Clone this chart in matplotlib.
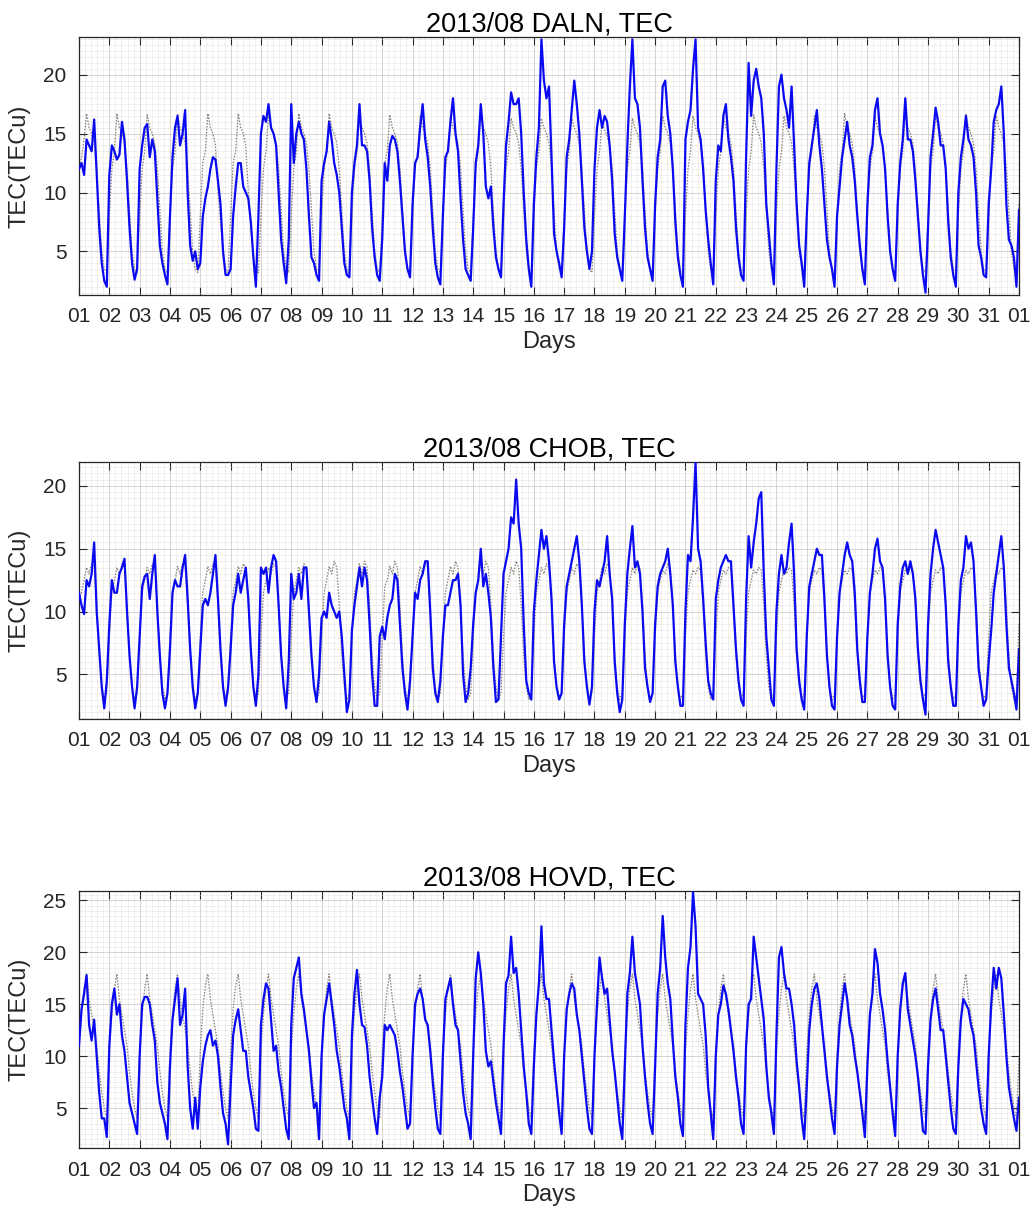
import numpy as np
import matplotlib
matplotlib.use("Agg")
import matplotlib.pyplot as plt
from matplotlib.ticker import MultipleLocator

plt.rcParams["font.family"] = ["Liberation Sans", "DejaVu Sans"]

# one row per day, samples every 2 h (00, 02, ..., 22 UT); last value = 1 Sep 00 UT
day_labels = [f"{d:02d}" for d in range(1, 32)] + ["01"]

daln_tec = [
    [12, 12.5, 11.5, 14.5, 14, 13.5, 16.2, 11.5, 7, 4, 2.5, 2.0],
    [11.5, 14, 13.5, 12.8, 13.2, 16, 14.5, 11, 7, 4, 2.6, 3.5],
    [12, 14, 15.5, 15.8, 13, 14.5, 13.5, 9.5, 5.5, 4, 3, 2.2],
    [8, 13, 15.5, 16.5, 14, 15, 17, 10, 5.5, 4.2, 5, 3.5],
    [4, 8, 9.5, 10.5, 12, 13, 12.8, 11, 9, 5, 3, 3],
    [3.5, 8, 10.5, 12.5, 12.5, 10.5, 10, 9.5, 7.5, 4.5, 2, 8],
    [15, 16.5, 16, 17.5, 15.5, 15, 14, 10, 6, 4, 2.3, 6],
    [17.5, 12.5, 15, 16, 15, 14.5, 12, 8, 4.5, 4, 3, 2.5],
    [11, 12.5, 13.5, 16, 14.5, 12.5, 11.5, 10, 7, 4, 3, 2.8],
    [10, 12.5, 14, 17.5, 14, 14, 13.5, 11, 7, 4.5, 3, 2.5],
    [6, 12.5, 11, 14, 14.8, 14.5, 13.5, 11, 8, 5, 3.5, 2.8],
    [9, 12.5, 13, 15.5, 17.5, 14.5, 13, 10.5, 7, 4, 2.8, 2.2],
    [8, 13, 13.5, 16, 18, 15, 13.5, 9.5, 6, 3.5, 3, 2.5],
    [7, 12.5, 14, 17.5, 15, 10.5, 9.5, 10.5, 7, 4.5, 3.5, 2.8],
    [9, 14, 16, 18.5, 17.5, 17.5, 18, 15, 10, 6, 3.5, 2],
    [9, 13, 15.5, 23, 19.5, 18, 19, 13, 6.5, 5, 4, 2.8],
    [7, 13, 14.5, 17, 19.5, 17.5, 15, 11, 7, 5, 3.5, 5],
    [12, 15.5, 17, 15.5, 16.5, 16, 14, 11, 6.5, 4.5, 3.5, 2.5],
    [8, 14, 19, 23, 18, 17.5, 15.5, 11, 7, 4.5, 3.5, 2.5],
    [9, 13, 14.5, 19, 19.5, 16.5, 15, 12, 7.5, 4.5, 3, 2],
    [14.5, 16, 17, 20.5, 23, 15.5, 14.5, 12, 8.5, 6, 4, 2.2],
    [11, 14, 13.5, 16.5, 17.5, 14.5, 13, 11, 7, 4.5, 3, 2.5],
    [13, 21, 16.5, 19.5, 20.5, 19, 18, 15, 9, 6.5, 4, 2.2],
    [12, 19, 20, 18, 17, 15.5, 19, 14, 9, 5.5, 4, 2],
    [8, 12.5, 14, 15.5, 17, 14, 12, 9, 6, 4.5, 3.5, 2],
    [8, 10.5, 13, 14.5, 16, 14, 13, 11, 8, 5.5, 3.5, 2.2],
    [9, 13, 14, 17, 18, 15, 14, 12, 8, 5, 3.5, 2.5],
    [9, 12.5, 14.5, 18, 14.5, 14.5, 13.5, 11, 8, 5, 3, 1.5],
    [7, 13, 15, 17.2, 16, 14, 14, 12, 7.5, 4.5, 3, 2],
    [10, 13, 14.5, 16.5, 14.5, 14, 13, 10, 5.5, 4.5, 3, 2.8],
    [9, 12, 16, 17, 17.5, 19, 15, 9, 6, 5.5, 4.5, 2.0],
]
daln_tec_end = 8.5

daln_ref = [
    [12, 13, 14.5, 16.7, 15.5, 15, 14.2, 12, 8.5, 5, 3.5, 3.2],
    [8, 12, 13.5, 16.7, 15.5, 15, 14.2, 12, 8.5, 5, 3.5, 3.2],
    [8, 12, 13.5, 16.6, 15.5, 15, 14.2, 12, 8.5, 5, 3.5, 3.2],
    [8, 12, 13.5, 16.7, 15.5, 15, 14.2, 12, 8.5, 5, 3.5, 3.2],
    [8, 12.5, 13.5, 16.7, 15.5, 15, 14.0, 10, 7.5, 5, 3.5, 3.2],
    [8, 12.5, 13.5, 16.7, 15.5, 15, 14.0, 10, 7, 4.5, 3.5, 3.2],
    [8, 12, 13.5, 16.6, 15.5, 15, 14.2, 12, 8.5, 5, 3.5, 3.2],
    [8, 12, 13.5, 16.7, 15.5, 15, 14.2, 12, 8.5, 5, 3.5, 3.2],
    [8, 12, 13.5, 16.7, 15.5, 15, 14.2, 12, 8.5, 5, 3.5, 3.2],
    [8, 12, 13.5, 16.4, 15.5, 15, 14.2, 12, 8.5, 5, 3.5, 3.2],
    [8, 12.5, 13.5, 16.6, 15.5, 15, 14.2, 12, 8.5, 5, 3.5, 3.2],
    [8, 12, 13.5, 16.5, 15.5, 15, 14.2, 12, 8.5, 5, 3.5, 3.2],
    [8, 12, 13.5, 16.5, 15.5, 15, 14.2, 12, 8.5, 5, 3.5, 3.2],
    [8, 12, 13.5, 16.5, 15.5, 15, 14.2, 12, 8.5, 5, 3.5, 3.2],
    [8, 12, 13.5, 16.3, 15.5, 15, 14.2, 12, 8.5, 5, 3.5, 3.2],
    [8, 12, 13.5, 16.3, 15.5, 15, 14.2, 12, 8.5, 5, 3.5, 3.2],
    [8, 12, 13.5, 16.3, 15.5, 15, 14.2, 12, 8.5, 5, 3.5, 3.2],
    [8, 12, 13.5, 16.0, 15.3, 14.8, 14.0, 12, 8.5, 5, 3.5, 3.2],
    [8, 12, 13.5, 16.3, 15.5, 15, 14.2, 12, 8.5, 5, 3.5, 3.2],
    [8, 12, 13.5, 16.5, 15.5, 15, 14.2, 12, 8.5, 5, 3.5, 3.2],
    [8, 12, 13.5, 16.5, 15.5, 15, 14.2, 12, 8.5, 5, 3.5, 3.2],
    [8, 12, 13.5, 16.5, 15.5, 15, 14.2, 12, 8.5, 5, 3.5, 3.2],
    [8, 12, 13.5, 16.6, 15.5, 15, 14.2, 12, 8.5, 5, 3.5, 3.2],
    [8, 12, 13.5, 16.5, 15.5, 15, 14.2, 12, 8.5, 5, 3.5, 3.2],
    [8, 12, 13.5, 16.5, 15.5, 15, 14.2, 12, 8.5, 5, 3.5, 3.2],
    [8, 12, 13.5, 16.7, 15.5, 15, 14.2, 12, 8.5, 5, 3.5, 3.2],
    [8, 12, 13.5, 16.5, 15.5, 15, 14.2, 12, 8.5, 5, 3.5, 3.2],
    [8, 12, 13.5, 16.5, 15.5, 15, 14.2, 12, 8.5, 5, 3.5, 3.2],
    [8, 12, 13.5, 16.5, 15.5, 15, 14.2, 12, 8.5, 5, 3.5, 3.2],
    [8, 12, 13.5, 16.7, 15.5, 15, 14.2, 12, 8.5, 5, 3.5, 3.2],
    [8, 12, 13.5, 16.5, 15.5, 15, 14.2, 12, 8.5, 5, 3.5, 3.2],
]
daln_ref_end = 9

chob_tec = [
    [11.5, 10.5, 9.8, 12.5, 12, 13, 15.5, 10, 7, 4, 2.3, 4.5],
    [9, 12.5, 11.5, 11.5, 13, 13.5, 14.2, 10, 6.5, 4, 2.3, 4],
    [8, 12, 12.8, 13, 11, 13, 14.5, 10, 6.5, 3.5, 2.3, 3.5],
    [7, 11.5, 12.5, 12, 12, 13.5, 14.5, 11, 7, 4, 2.3, 3.5],
    [7, 10.5, 11, 10.5, 11.5, 13, 14.5, 11, 7, 4, 2.5, 4],
    [7, 10.5, 11.5, 13, 11.5, 12.5, 13.5, 11, 7, 4, 2.5, 5],
    [13.5, 13, 13.5, 11.5, 13.5, 14.5, 14, 10.5, 6.5, 4, 2.3, 6],
    [13, 11, 11.5, 13, 11, 13.5, 13.5, 10, 6.5, 4, 2.8, 5],
    [9.5, 10, 9.5, 11.5, 10.5, 10, 9.5, 10, 8, 5, 2, 3],
    [8.5, 10.5, 12, 13.5, 12, 13.5, 12.5, 9, 5, 2.5, 2.5, 8],
    [8.8, 7.8, 9.5, 10.5, 11, 13, 12.5, 9, 5.5, 3.5, 2.2, 4.5],
    [8, 11.5, 11, 12.5, 13, 14, 14, 10, 5.5, 3.5, 2.8, 4.5],
    [8, 10.5, 10.5, 11.5, 12.5, 12.5, 13, 10.5, 5, 2.8, 3.5, 5.5],
    [9, 11.5, 12.5, 15, 12, 13, 11.5, 9.5, 5.5, 2.8, 3, 8],
    [13, 14, 15, 17.5, 17, 20.5, 17, 15, 9, 4.5, 3.5, 3],
    [10, 12.5, 14.5, 16.5, 15, 16, 14, 11, 6, 4, 3, 3.5],
    [9, 12, 13, 14, 15, 16, 14, 10.5, 6, 4, 2.6, 4],
    [10, 12.5, 12, 13, 14, 16, 13, 11, 6, 3.5, 2, 3],
    [9, 13, 15, 16.8, 13.5, 14, 13, 10, 5.5, 4, 2.8, 3.5],
    [9, 12, 13, 13.5, 14, 15, 13, 10.5, 6, 4, 2.5, 2.5],
    [10, 14.5, 14, 17.5, 21.9, 15, 14, 11, 7.5, 4.5, 3.5, 3],
    [11, 12.5, 13.5, 14, 14.5, 14, 14, 10.5, 7, 4.5, 3, 2.5],
    [11, 16, 13.5, 15.5, 17, 19, 19.5, 13, 8, 5.5, 3, 2.5],
    [10, 13, 14.5, 13, 13.5, 15.5, 17, 13, 7, 4.5, 3, 2.2],
    [8, 12, 13, 14, 15, 14.5, 14.5, 11, 6.5, 4, 2.5, 2.2],
    [8, 11.5, 13, 14.5, 15.5, 14.5, 14, 11.5, 7, 4.5, 2.8, 2.8],
    [8, 11.5, 13, 15, 15.8, 14, 13.5, 11, 6.5, 4, 2.5, 2.2],
    [9, 12, 13.5, 14, 13, 14, 13, 11, 7, 4.5, 3, 1.8],
    [9, 13, 15, 16.5, 15.5, 14.5, 13.5, 10.5, 6, 4, 2.5, 2.5],
    [9, 12.5, 13.5, 16, 15, 15.5, 14, 10, 5.5, 4, 2.5, 3],
    [6, 8.5, 11.5, 13, 14.5, 16, 13.5, 9, 5.5, 4.5, 3.5, 2.2],
]
chob_tec_end = 7

chob_ref = [
    [11, 11.5, 12.5, 13.5, 13, 13.8, 13.5, 10.5, 6.5, 4, 3, 3.5],
    [8, 11.5, 12.5, 13.5, 13, 13.8, 13.5, 10.5, 6.5, 4, 3, 3.5],
    [8, 11.5, 12.5, 13.5, 13, 13.8, 13.5, 10.5, 6.5, 4, 3, 3.5],
    [8, 11.5, 12.5, 13.6, 13, 13.8, 13.5, 10.5, 6.5, 4, 3, 3.5],
    [8, 11.5, 12.5, 13.6, 13, 13.8, 13.5, 10.5, 6.5, 4, 3, 3.5],
    [8, 11.5, 12.5, 13.6, 13, 13.8, 13.5, 10.5, 6.5, 4, 3, 3.5],
    [8, 11.5, 12.5, 13.5, 13, 13.8, 13.5, 10.5, 6.5, 4, 3, 3.5],
    [8, 11.5, 12.5, 13.5, 13, 13.8, 13.5, 10.5, 6.5, 4, 3, 3.5],
    [8, 11.5, 12.5, 13.6, 13, 14.0, 13.5, 10.5, 6.5, 4, 3, 3.5],
    [8, 11.5, 12.5, 13.8, 13, 14.0, 13.5, 10.5, 6.5, 4, 3, 3.5],
    [8, 12, 12.5, 13.6, 13, 14.0, 13.5, 10.5, 6.5, 4, 3, 3.5],
    [8, 11.5, 12.5, 13.6, 13, 14.0, 13.5, 10.5, 6.5, 4, 3, 3.5],
    [8, 11.5, 12.5, 13.6, 13, 14.0, 13.5, 10.5, 6.5, 4, 3, 3.5],
    [8, 11.5, 12.5, 13.8, 13, 14.0, 13.5, 10.5, 6.5, 4, 3, 3.5],
    [8, 11.5, 12.5, 13.5, 13, 14.0, 13.5, 10.5, 6.5, 4, 3, 3.5],
    [8, 11.5, 12.5, 13.5, 13, 13.8, 13.5, 10.5, 6.5, 4, 3, 3.5],
    [8, 11.5, 12.5, 13.5, 13, 13.8, 13.5, 10.5, 6.5, 4, 3, 3.5],
    [8, 11.5, 12.5, 13.5, 13, 13.8, 13.5, 10.5, 6.5, 4, 3, 3.5],
    [8, 11.5, 12.5, 13.5, 13, 13.8, 13.5, 10.5, 6.5, 4, 3, 3.5],
    [8, 11.5, 12.5, 13.3, 13, 13.8, 13.5, 10.5, 6.5, 4, 3, 3.5],
    [8, 11.5, 12.5, 13.3, 13, 13.5, 13.3, 10.5, 6.5, 4, 3, 3.5],
    [8, 11.5, 12.5, 13.3, 13, 13.5, 13.3, 10.5, 6.5, 4, 3, 3.5],
    [8, 11.5, 12.5, 13.3, 13, 13.5, 13.3, 10.5, 6.5, 4, 3, 3.5],
    [8, 11.5, 12.5, 13.3, 13, 13.5, 13.3, 10.5, 6.5, 4, 3, 3.5],
    [8, 11.5, 12.5, 13.3, 13, 13.5, 13.3, 10.5, 6.5, 4, 3, 3.5],
    [8, 11.5, 12.5, 13.3, 13, 13.5, 13.3, 10.5, 6.5, 4, 3, 3.5],
    [8, 11.5, 12.5, 13.3, 13, 13.5, 13.3, 10.5, 6.5, 4, 3, 3.5],
    [8, 11.5, 12.5, 13.3, 13, 13.5, 13.3, 10.5, 6.5, 4, 3, 3.5],
    [8, 11.5, 12.5, 13.3, 13, 13.5, 13.3, 10.5, 6.5, 4, 3, 3.5],
    [8, 11.5, 12.5, 13.3, 13, 13.5, 13.3, 10.5, 6.5, 4, 3, 3.5],
    [8, 11.5, 12.5, 13.3, 13, 13.5, 13.3, 10.5, 6.5, 4, 3, 3.5],
]
chob_ref_end = 9

hovd_tec = [
    [11, 14.5, 16, 17.8, 13, 11.5, 13.5, 10, 6.5, 4, 4, 2.2],
    [11, 15, 16.5, 14, 15, 12, 10.5, 8, 5.5, 4.5, 3.5, 2.5],
    [10, 15, 15.7, 15.7, 15, 13, 11.5, 7.5, 5.5, 4.5, 3.5, 2],
    [9, 13.5, 15.5, 17.5, 13, 14, 16.5, 9, 5, 3, 6, 3],
    [7, 9.5, 11, 12, 12.5, 11, 11.5, 10, 7, 4.5, 3.5, 1.5],
    [7, 12, 13.5, 14.5, 12.5, 10.5, 10.5, 8, 6.5, 5, 3, 2.8],
    [13, 15.5, 17, 16.5, 13.5, 10.5, 11, 8.5, 7, 5, 3, 2],
    [13, 17.5, 18.5, 19.5, 16, 14.5, 12.5, 10.5, 7.5, 5, 5.5, 2],
    [10, 14, 15.5, 17, 15, 13, 10.5, 9, 7, 5, 4, 2],
    [12, 16, 18.3, 15, 13, 12.8, 11, 8, 6, 4, 2.5, 6],
    [8, 13, 12.5, 13, 12.5, 12, 10.5, 8.5, 7, 5, 3, 3.5],
    [10, 15, 16, 16.5, 15.5, 13.5, 13, 10.5, 7.5, 5, 3, 2.5],
    [10, 15.5, 16.5, 17.5, 15, 13, 12.5, 9.5, 6.5, 4.5, 3.5, 2],
    [10, 17.5, 20, 18, 15, 10.5, 9, 9.5, 7.5, 5.5, 4, 2.5],
    [11, 17, 17.8, 21.5, 18, 18.5, 16, 12.5, 9, 6.5, 3.5, 2.5],
    [9, 14, 17, 22.5, 17, 15.5, 15.5, 12.5, 9.5, 7, 4.5, 2.5],
    [10, 14.5, 16, 17, 16.5, 14, 12.5, 10, 7.5, 5, 3, 2.5],
    [10, 15, 19.5, 17.5, 16, 16.5, 13.5, 10.5, 8.5, 6, 3.5, 2],
    [9, 16, 18, 21.5, 18, 16.5, 15, 11, 8, 5.5, 3.5, 2.5],
    [9, 16, 18.5, 23.5, 19.5, 17, 15.5, 11.5, 8, 6, 3.5, 2.3],
    [13, 18.5, 20.5, 25.8, 22.5, 16, 15.5, 15, 12, 7, 4.5, 2],
    [10, 14, 15, 16.8, 16, 14.5, 12.5, 10.5, 8, 6, 3.5, 2.5],
    [11, 15, 15.5, 21.5, 19.5, 17.5, 15.5, 13.5, 9, 6, 4.5, 2.5],
    [12, 19.5, 20.5, 18, 16.5, 16.5, 15, 13, 9.5, 7, 4, 2],
    [7, 12.5, 15, 16.5, 17, 15.5, 13, 10.5, 8, 6, 4, 2.5],
    [9, 13, 15, 17, 15.5, 13, 12, 10, 8.5, 6.5, 4.5, 2.2],
    [9, 14, 16, 20.3, 19, 16, 14.5, 12.5, 9.5, 7, 4.5, 2.3],
    [10, 14.5, 17, 18, 14.5, 13, 11.5, 10, 8, 5.5, 2.8, 2.5],
    [9, 13.5, 15.5, 16.5, 14.5, 12.5, 12.5, 10, 7.5, 5, 3, 2.5],
    [9, 13.5, 15.5, 15, 14.5, 13, 12, 9.5, 7, 5, 3.5, 2.5],
    [10, 15, 18.5, 16.5, 18.5, 17.5, 14, 10, 7, 5.5, 4, 2.8],
]
hovd_tec_end = 6

hovd_ref = [
    [11, 14, 16.5, 17.9, 15.5, 14, 12.5, 11, 8.5, 6.5, 5, 4],
    [10.5, 14, 16.5, 17.9, 15.5, 14, 12.5, 11, 8.5, 6.5, 5, 4],
    [10.5, 14, 16.5, 17.9, 15.5, 14, 12.5, 11, 8.5, 6.5, 5, 4],
    [10.5, 14, 16.5, 17.9, 15.5, 14, 12.5, 11, 8.5, 6.5, 5, 4],
    [10.5, 14.5, 16.8, 17.9, 15.5, 14, 12.5, 11, 8.5, 6.5, 5, 4],
    [10.5, 14.5, 16.8, 17.9, 15.5, 14, 12.5, 11, 8.5, 6.5, 5, 4],
    [10.5, 14, 16.5, 17.9, 15.5, 14, 12.5, 11, 8.5, 6.5, 5, 4],
    [10.5, 14, 16.5, 17.9, 15.5, 14, 12.5, 11, 8.5, 6.5, 5, 4],
    [10.5, 14, 16.5, 17.9, 15.5, 14, 12.5, 11, 8.5, 6.5, 5, 4],
    [10.5, 14, 16.5, 17.9, 15.5, 14, 12.5, 11, 8.5, 6.5, 5, 4],
    [10.5, 14, 16.5, 17.9, 15.5, 14, 12.5, 11, 8.5, 6.5, 5, 4],
    [10.5, 14, 16.5, 17.9, 15.5, 14, 12.5, 11, 8.5, 6.5, 5, 4],
    [10.5, 14, 16.5, 17.9, 15.5, 14, 12.5, 11, 8.5, 6.5, 5, 4],
    [10.5, 14, 16.5, 17.9, 15.5, 14, 12.5, 11, 8.5, 6.5, 5, 4],
    [10.5, 14, 16.5, 17.9, 15.5, 14, 12.5, 11, 8.5, 6.5, 5, 4],
    [10.5, 14, 16.5, 17.9, 15.5, 14, 12.5, 11, 8.5, 6.5, 5, 4],
    [10.5, 14, 16.5, 17.9, 15.5, 14, 12.5, 11, 8.5, 6.5, 5, 4],
    [10.5, 14, 16.5, 17.9, 15.5, 14, 12.5, 11, 8.5, 6.5, 5, 4],
    [10.5, 14, 16.5, 17.9, 15.5, 14, 12.5, 11, 8.5, 6.5, 5, 4],
    [10.5, 14, 16.5, 17.9, 15.5, 14, 12.5, 11, 8.5, 6.5, 5, 4],
    [10.5, 14, 16.5, 17.9, 15.5, 14, 12.5, 11, 8.5, 6.5, 5, 4],
    [10.5, 14, 16.5, 17.9, 15.5, 14, 12.5, 11, 8.5, 6.5, 5, 4],
    [10.5, 14, 16.5, 17.9, 15.5, 14, 12.5, 11, 8.5, 6.5, 5, 4],
    [10.5, 14, 16.5, 17.9, 15.5, 14, 12.5, 11, 8.5, 6.5, 5, 4],
    [10.5, 14, 16.5, 17.9, 15.5, 14, 12.5, 11, 8.5, 6.5, 5, 4],
    [10.5, 14, 16.5, 17.9, 15.5, 14, 12.5, 11, 8.5, 6.5, 5, 4],
    [10.5, 14, 16.5, 17.9, 15.5, 14, 12.5, 11, 8.5, 6.5, 5, 4],
    [10.5, 14, 16.5, 17.9, 15.5, 14, 12.5, 11, 8.5, 6.5, 5, 4],
    [10.5, 14, 16.5, 17.9, 15.5, 14, 12.5, 11, 8.5, 6.5, 5, 4],
    [10.5, 14, 16.5, 17.9, 15.5, 14, 12.5, 11, 8.5, 6.5, 5, 4],
    [10.5, 14, 16.5, 17.9, 15.5, 14, 12.5, 11, 8.5, 6.5, 5, 4],
]
hovd_ref_end = 10

panels = [
    ("2013/08 DALN, TEC", daln_tec, daln_tec_end, daln_ref, daln_ref_end, (1.3, 23.2), [5, 10, 15, 20]),
    ("2013/08 CHOB, TEC", chob_tec, chob_tec_end, chob_ref, chob_ref_end, (1.45, 21.9), [5, 10, 15, 20]),
    ("2013/08 HOVD, TEC", hovd_tec, hovd_tec_end, hovd_ref, hovd_ref_end, (1.15, 25.9), [5, 10, 15, 20, 25]),
]

W, H = 1032, 1218
fig = plt.figure(figsize=(W / 100, H / 100), dpi=100)

# axes boxes in pixels: left, right, top, bottom
boxes = [(79, 1019, 37, 295), (79, 1019, 462, 719), (79, 1019, 891, 1148)]

AX_COL = "#262626"

for (title, tec, tec_end, ref, ref_end, ylim, yt), (l, r, t, b) in zip(panels, boxes):
    ax = fig.add_axes([l / W, 1 - b / H, (r - l) / W, (b - t) / H])

    y_tec = np.append(np.ravel(tec), tec_end)
    y_ref = np.append(np.ravel(ref), ref_end)
    x = 1 + np.arange(len(y_tec)) / 12.0

    ax.plot(x, y_ref, color="#857f75", lw=0.9, ls=(0, (1.2, 1.2)), zorder=2)
    ax.plot(x, y_tec, color="#0a0af0", lw=1.6, zorder=3)

    ax.set_xlim(1, 32)
    ax.set_ylim(*ylim)
    ax.set_xticks(np.arange(1, 33))
    ax.set_xticklabels(day_labels)
    ax.set_yticks(yt)
    ax.xaxis.set_minor_locator(MultipleLocator(0.2))
    ax.yaxis.set_minor_locator(MultipleLocator(0.5))

    ax.grid(which="major", color="#cdcdcd", lw=0.6)
    ax.grid(which="minor", color="#d6d6d6", lw=0.5, ls=(0, (1, 1)))
    ax.set_axisbelow(True)

    ax.tick_params(which="major", direction="in", top=True, right=True,
                   length=6, width=0.8, color=AX_COL, labelsize=15,
                   labelcolor=AX_COL, pad=9)
    ax.tick_params(which="minor", length=0)
    for s in ax.spines.values():
        s.set_color(AX_COL)
        s.set_linewidth(0.9)

    ax.set_title(title, fontsize=19.5, pad=4)
    ax.set_xlabel("Days", fontsize=17, color=AX_COL, labelpad=3)
    ax.set_ylabel("TEC(TECu)", fontsize=17, color=AX_COL, labelpad=9)

fig.savefig("out.png", dpi=100)
print("saved")
